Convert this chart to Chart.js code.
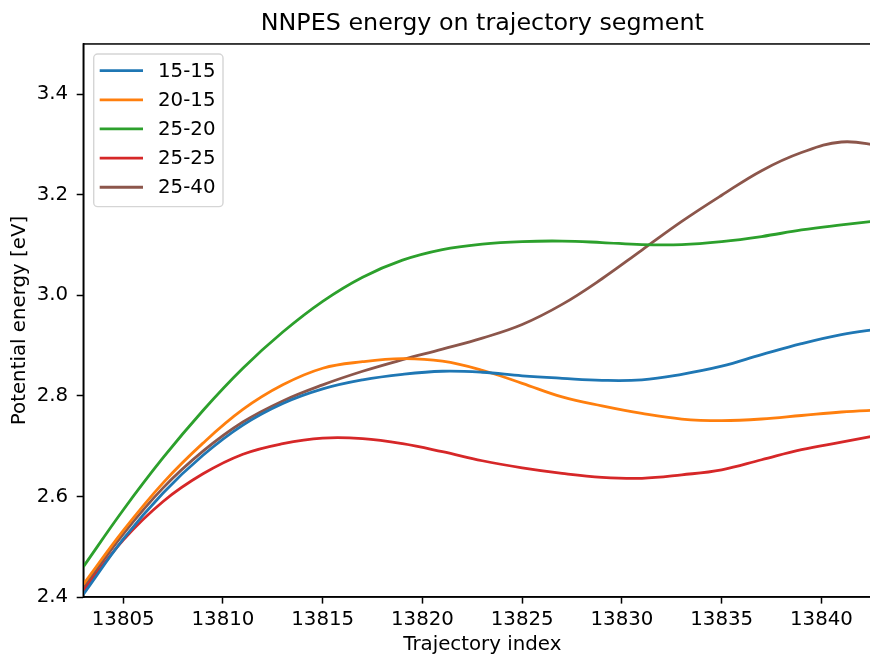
<!doctype html>
<html>

<head>
  <title>NNPES energy on trajectory segment</title>
  <script src="https://cdn.jsdelivr.net/npm/chart.js@4/dist/chart.umd.min.js"></script>
  <style>
    html, body {
      margin: 0;
      padding: 0;
      overflow: hidden;
      background: #fff;
    }
    canvas {
      display: block;
    }
  </style>
</head>

<body>
<canvas id="canvas" width="884" height="657"></canvas>
<script>
  // trajectory indices (every second frame of the segment)
  var trajIndex = [13803, 13805, 13807, 13809, 13811, 13813, 13815, 13817, 13819, 13821, 13823,
    13825, 13827, 13829, 13831, 13833, 13835, 13837, 13839, 13841, 13843];

  // potential energy [eV] per model
  var e15_15 = [2.405, 2.515, 2.607, 2.682, 2.742, 2.785, 2.814, 2.832, 2.843, 2.849, 2.847,
    2.840, 2.835, 2.831, 2.832, 2.843, 2.859, 2.882, 2.904, 2.922, 2.934];
  var e20_15 = [2.425, 2.532, 2.627, 2.706, 2.773, 2.822, 2.855, 2.868, 2.874, 2.869, 2.851,
    2.825, 2.798, 2.780, 2.765, 2.754, 2.751, 2.754, 2.761, 2.768, 2.772];
  var e25_20 = [2.460, 2.573, 2.677, 2.771, 2.855, 2.927, 2.988, 3.036, 3.070, 3.091, 3.102,
    3.107, 3.108, 3.105, 3.101, 3.101, 3.107, 3.117, 3.130, 3.140, 3.149];
  var e25_25 = [2.412, 2.513, 2.590, 2.645, 2.684, 2.705, 2.716, 2.715, 2.705, 2.689, 2.671,
    2.657, 2.646, 2.638, 2.636, 2.643, 2.653, 2.673, 2.693, 2.708, 2.723];
  var e25_40 = [2.418, 2.525, 2.617, 2.690, 2.748, 2.790, 2.822, 2.849, 2.872, 2.893, 2.915,
    2.942, 2.982, 3.033, 3.090, 3.147, 3.199, 3.248, 3.284, 3.305, 3.298];

  var seriesLabels = ['15-15', '20-15', '25-20', '25-25', '25-40'];
  var seriesValues = [e15_15, e20_15, e25_20, e25_25, e25_40];
  var seriesColors = ['#1f77b4', '#ff7f0e', '#2ca02c', '#d62728', '#8c564b'];

  var xTicks = [13805, 13810, 13815, 13820, 13825, 13830, 13835, 13840];
  var yTicks = [2.4, 2.6, 2.8, 3.0, 3.2, 3.4];

  var labelSize = 19.8;
  var titleSize = 23.8;

  Chart.defaults.font.family = '"DejaVu Sans", sans-serif';
  Chart.defaults.color = '#000';

  function toPoints(values) {
    return values.map(function (v, i) {
      return {x: trajIndex[i], y: v};
    });
  }

  var datasets = seriesLabels.map(function (label, i) {
    return {
      label: label,
      data: toPoints(seriesValues[i]),
      borderColor: seriesColors[i],
      backgroundColor: seriesColors[i],
      fill: false
    };
  });

  // box around the axes, title centred on the axes, and a framed legend top-left
  var axesBox = {
    id: 'axesBox',
    afterLayout: function (chart) {
      var t = chart.titleBlock;
      t.left = chart.chartArea.left;
      t.right = chart.chartArea.right;
      t.width = t.right - t.left;
    },
    afterDraw: function (chart) {
      var ctx = chart.ctx;
      var area = chart.chartArea;
      ctx.save();
      ctx.strokeStyle = '#000';
      ctx.lineWidth = 1.5;
      ctx.strokeRect(area.left, area.top, area.right - area.left, area.bottom - area.top);

      var x0 = area.left + 10.4;
      var y0 = area.top + 10;
      ctx.beginPath();
      ctx.roundRect(x0, y0, 129.3, 152.7, 4);
      ctx.fillStyle = 'rgba(255,255,255,0.8)';
      ctx.fill();
      ctx.strokeStyle = '#d5d5d5';
      ctx.lineWidth = 1.4;
      ctx.stroke();

      ctx.font = labelSize + 'px "DejaVu Sans"';
      ctx.textBaseline = 'middle';
      chart.data.datasets.forEach(function (ds, i) {
        var y = y0 + 16.7 + i * 29.15;
        ctx.beginPath();
        ctx.moveTo(x0 + 6, y);
        ctx.lineTo(x0 + 49.3, y);
        ctx.strokeStyle = ds.borderColor;
        ctx.lineWidth = 2.8;
        ctx.stroke();
        ctx.fillStyle = '#000';
        ctx.fillText(ds.label, x0 + 64.3, y + 1);
      });
      ctx.restore();
    }
  };

  var tickGrid = {
    display: true,
    drawOnChartArea: false,
    drawTicks: true,
    tickLength: 6.6,
    tickWidth: 1.5,
    tickColor: '#000'
  };

  window.onload = function () {
    var ctx = document.getElementById('canvas').getContext('2d');
    window.myLine = new Chart(ctx, {
      type: 'line',
      data: {datasets: datasets},
      plugins: [axesBox],
      options: {
        responsive: false,
        animation: false,
        layout: {
          padding: {left: 0, right: 2.7, top: 0, bottom: 0}
        },
        elements: {
          point: {radius: 0, hoverRadius: 0},
          line: {borderWidth: 2.8, tension: 0.4}
        },
        plugins: {
          legend: {display: false},
          tooltip: {enabled: false},
          title: {
            display: true,
            text: 'NNPES energy on trajectory segment',
            color: '#000',
            font: {size: titleSize, weight: 'normal'},
            padding: {top: 10, bottom: 5.4}
          }
        },
        scales: {
          x: {
            type: 'linear',
            min: 13803,
            max: 13843,
            afterFit: function (scale) {
              scale.height = 60;
            },
            afterBuildTicks: function (scale) {
              scale.ticks = xTicks.map(function (v) {
                return {value: v};
              });
            },
            ticks: {
              autoSkip: false,
              maxRotation: 0,
              padding: 4.5,
              font: {size: labelSize},
              callback: function (value) {
                return String(value);
              }
            },
            grid: tickGrid,
            border: {display: true, color: '#000', width: 1.5},
            title: {
              display: true,
              text: 'Trajectory index',
              font: {size: labelSize},
              padding: {top: 0, bottom: 0}
            }
          },
          y: {
            min: 2.4,
            max: 3.5,
            afterFit: function (scale) {
              scale.width = 83.3;
            },
            afterBuildTicks: function (scale) {
              scale.ticks = yTicks.map(function (v) {
                return {value: v};
              });
            },
            ticks: {
              autoSkip: false,
              padding: 8.5,
              font: {size: labelSize},
              callback: function (value) {
                return value.toFixed(1);
              }
            },
            grid: tickGrid,
            border: {display: true, color: '#000', width: 1.5},
            title: {
              display: true,
              text: 'Potential energy [eV]',
              font: {size: labelSize},
              padding: {top: 8, bottom: 0}
            }
          }
        }
      }
    });
  };
</script>
</body>

</html>
